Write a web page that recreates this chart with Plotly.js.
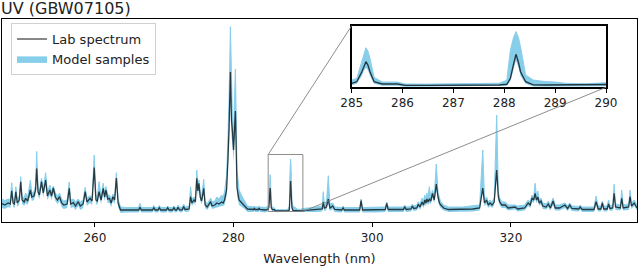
<!DOCTYPE html>
<html>
<head>
<meta charset="utf-8">
<script src="https://cdn.plot.ly/plotly-3.0.1.min.js"></script>
<style>
html,body{margin:0;padding:0;background:#fff;}
#chart{width:640px;height:269px;}
</style>
</head>
<body>
<div id="chart"></div>
<script>
// Wavelength (nm)
const wavelength = [
 246.6,247.0,247.5,247.8,248.0,248.2,248.4,248.6,248.8,249.1,
 249.3,249.5,249.8,250.0,250.3,250.7,250.9,251.2,251.45,251.6,
 251.8,252.0,252.3,252.55,252.9,253.15,253.5,253.75,254.0,254.3,
 254.6,254.9,255.2,255.5,256.0,256.3,256.5,256.9,257.2,257.6,
 257.9,258.3,258.6,258.85,259.3,259.6,259.9,260.15,260.35,260.6,
 260.9,261.2,261.4,261.6,261.85,262.1,262.35,262.6,262.85,263.1,
 263.35,263.7,
 264.5,266.3,266.5,266.7,268.3,268.5,268.7,269.1,269.3,269.5,
 270.3,270.5,270.7,271.2,271.4,271.6,271.8,272.0,272.2,272.6,
 272.8,273.0,273.6,273.8,274.0,274.3,274.5,274.7,274.85,275.0,
 275.2,275.4,275.7,275.9,276.2,276.7,276.9,277.3,277.6,277.9,
 278.3,278.5,
 278.7,279.0,279.2,279.35,279.55,279.7,279.85,280.0,280.27,280.5,
 280.8,281.2,281.6,282.0,
 282.9,283.0,283.1,283.6,283.7,283.8,284.6,
 285.0,285.1,285.2,285.24,285.28,285.32,285.36,285.44,285.6,285.9,
 286.05,286.5,287.0,287.5,287.9,288.05,288.12,288.18,288.23,288.28,
 288.32,288.42,288.57,288.8,289.0,289.2,289.6,290.0,
 291.5,292.2,292.8,292.94,293.1,293.4,293.67,293.9,294.3,294.6,
 295.6,295.8,296.0,298.2,298.4,298.6,300.5,301.9,302.1,302.3,
 304.5,304.7,304.9,305.6,305.8,306.0,306.45,306.65,306.9,307.2,
 307.4,307.6,307.75,307.9,308.05,308.24,308.45,308.7,308.95,309.25,
 309.5,309.7,309.9,310.3,311.0,313.0,314.5,315.5,315.95,316.2,
 316.5,316.75,317.0,317.3,317.6,317.96,318.2,318.4,318.7,319.2,
 319.6,320.6,321.0,322.0,322.5,322.8,323.05,323.3,323.5,323.7,
 323.9,324.1,324.35,324.6,325.1,325.4,325.7,326.1,326.4,327.0,
 327.8,328.2,328.5,328.8,329.8,330.0,330.3,332.0,332.3,332.6,
 333.0,333.2,333.4,333.9,334.1,334.3,334.7,334.9,335.1,335.8,
 336.0,336.2,337.0,337.2,337.4,337.8,338.2
];
// Lab spectrum intensity (arb. units)
const labSpectrum = [
 7.5,6,8,7,20.3,8,7,19.3,8,11,
 29.3,11,9,12.7,10,21,14,15,21,42.5,
 19,16,29.3,18,31,15,21,15,23,14,
 11,14.3,8,6,7,22.7,7,8.3,5,9.3,
 5,7,19.3,9,12.7,10,43.5,11,10,19.3,
 11,22.7,14,21,12,12.7,8,14.3,11,33,
 8,1,
 1,1,3.7,1,1,3.3,1,1,3.3,1,
 1,3.3,1,1,3.3,1,1,3.7,1.2,1.2,
 4.5,1.5,2,14.3,8,11,9,32.7,20,27.7,
 14,10,22.7,6,4,9.3,5,6,8,7,
 9,8,
 11,21,53,81,139,91,79,61,100,23,
 11,8,5,2,
 1.5,3,1.5,1.5,3,1.5,1,
 1.9,3.5,13.2,19,22.9,19.5,13.2,3.5,1.3,1.3,
 0,0,0,0,0.3,1,6.8,20,30,22,
 13.2,3.5,0.5,0.3,0.3,0,0,0.3,
 1,1.5,2,9,3,4,12,3,5,1.5,
 1,3,1,1,10.3,1,1,1.5,7.7,1.5,
 1.5,4.3,1.5,2,5,2.5,3,6.7,4,9,
 6,11,8,12,9,11.7,10,17.7,11,27,
 14,8,6,3,1.5,1.5,2,3,23,8,
 11,6,8,6,9,41,14,9,6,6,
 3,4,2,3,8,6,13,11,17.7,11,
 14,8,10,5,4,7,3,10,3,3,
 6,2.5,6,2.5,2,4,1.5,1.5,9.3,2,
 2,8,2,2,7,2.5,3,17.7,4,3,
 12.7,3,4,14.3,5,8,3
];
// Model samples: lower envelope
const modelLower = [
 3,2,4,3,15,4,3,15,4,7,
 24,7,5,8,6,16,10,11,16,35,
 15,12,24,14,25,11,16,11,18,10,
 7,10,4,2,3,17,3,4,1,5,
 1,3,15,5,8,6,36,7,6,15,
 7,18,10,16,8,8,4,10,7,27,
 4,-2,
 -1.5,-1.5,1,-1.5,-1.5,0.5,-1.5,-1.5,0.5,-1.5,
 -1.5,0.5,-1.5,-1.5,0.5,-1.5,-1.5,1,-1.3,-1.3,
 1.5,-1,-0.5,10,5,8,6,26,15,22,
 10,7,17,3,1,6,2,3,4,4,
 5,5,
 6,15,40,65,115,75,65,50,85,15,
 6,4,2,-1,
 -1,0.5,-1,-1,0.5,-1,-1.5,
 0,1.5,9,14,17,14.5,9,1.5,-0.5,-0.5,
 -1.3,-1.2,-1,-1,-1,-0.5,4,15,24,17,
 9,1.5,-1,-1,-1,-1.2,-1.2,-1,
 -1.5,-1,-0.5,5,0,1,8,0,2,-1,
 -1.5,0.5,-1.5,-1.5,7,-1.5,-1.5,-1,5,-1,
 -1,1.5,-1,-0.5,2,0,0.5,4,1,6,
 3,7,5,8,6,8,7,13,8,21,
 10,5,3,0.5,-1,-1,-0.5,0.5,18,5,
 7,3,5,3,6,33,10,6,3,3,
 0.5,1.5,-0.5,0.5,5,3,9,8,13,8,
 10,5,7,2,1.5,4,0.5,6,0.5,0.5,
 3,0,3,0,-0.5,1.5,-1,-1,6,-0.5,
 -0.5,5,-0.5,-0.5,4,0,0.5,13,1,0.5,
 9,0.5,1,10,2,5,0.5
];
// Model samples: upper envelope
const modelUpper = [
 12,10.5,12,11,28.3,12,11,24.3,12,15,
 34.3,15,13,18,14,31,18,19,26,59.5,
 24,20,33,22,38.3,19,26,19,25,18,
 15,18,12,10,11,29,11,12,9,12,
 9,11,23.7,13,15,14,56,15,14,29.3,
 15,27.7,18,24.3,16,16,12,17,15,38.3,
 12,4,
 3.5,3.5,7.7,3.5,3.5,5.5,3.5,3.5,5.5,3.5,
 3.5,5,3.5,3.5,5,3.5,3.5,6,3.7,3.7,
 7,4,5,24.3,12,14,13,41,25,31,
 19,15,31.7,10,7,13,9,10,14,12,
 16,14,
 19,36,76,111,184.3,121,91,81,142,41,
 21,15,10,5,
 4,5,4,4,5,4,3.5,
 5.1,6.8,24.5,32,36.4,33,26,7.8,3.2,3.2,
 1.3,1.2,1.5,1.2,2,5,34,46,52,46,
 37,10,5.1,3.6,3.2,2,1.5,2.5,
 3.5,4,5,19.3,7,8,35.3,7,8,4,
 3.5,5,3.5,3.5,12,3.5,3.5,4,9,4,
 4,6,4,4.5,7,5,6,9.3,7,13,
 10,16,12,18,13,24.3,14,21,15,47,
 18,12,9,6,4,4,5,6,61,12,
 14,9,11,9,13,96,19,13,9,9,
 6,6,5,6,11,9,16,14,27.7,15,
 20,11,13,8,7,10,6,13,6,6,
 8,5,8,5,4.5,6,4,4,15,5,
 5,10,5,5,11,5,6,26.7,7,6,
 21,6,7,21,8,11,6
];
const xTicks = [260, 280, 300, 320];
const insetTicks = [285, 286, 287, 288, 289, 290];
const chartTitle = 'UV (GBW07105)';

const xRange = [246.6, 338.2];
const yRange = [-11, 192];
const insetX = [285, 290];
const insetY = [-1.9, 57.7];
const boxY = [-0.5, 56.5];
const insetDomX = [0.5507, 0.9512];
const insetDomY = [0.6635, 0.967];

const blue = '#87CEEB';
const labColor = 'rgba(0,0,0,0.72)';
const font = 'DejaVu Sans, sans-serif';

function bandTraces(xa, ya, legend) {
  return [
    {x: wavelength, y: modelLower, xaxis: xa, yaxis: ya, type: 'scatter', mode: 'lines',
     line: {width: 0, color: blue}, showlegend: false, hoverinfo: 'skip'},
    {x: wavelength, y: modelUpper, xaxis: xa, yaxis: ya, type: 'scatter', mode: 'lines',
     fill: 'tonexty', fillcolor: blue, line: {width: 1, color: blue},
     name: 'Model samples', showlegend: legend, legendrank: 2, hoverinfo: 'skip'}
  ];
}
function labTrace(xa, ya, legend, w) {
  return {x: wavelength, y: labSpectrum, xaxis: xa, yaxis: ya, type: 'scatter', mode: 'lines',
    line: {width: w, color: labColor}, name: 'Lab spectrum', showlegend: legend, legendrank: 1,
    hoverinfo: 'skip'};
}

const data = [
  ...bandTraces('x', 'y', true),
  labTrace('x', 'y', true, 1.3),
  ...bandTraces('x2', 'y2', false),
  labTrace('x2', 'y2', false, 1.4)
];

const px = v => (v - xRange[0]) / (xRange[1] - xRange[0]);
const py = v => (v - yRange[0]) / (yRange[1] - yRange[0]);

const layout = {
  width: 640, height: 269,
  margin: {l: 2, r: 3, t: 19, b: 47, pad: 0},
  paper_bgcolor: '#fff', plot_bgcolor: '#fff',
  font: {family: font, size: 12, color: '#222'},
  annotations: [
    {text: chartTitle, xref: 'paper', yref: 'paper', x: 0, y: 1, xanchor: 'left', yanchor: 'bottom',
     xshift: -2, yshift: 0, showarrow: false, borderpad: 0,
     font: {family: font, size: 16, color: '#222'}}
  ],
  showlegend: true,
  legend: {x: 0.0142, y: 0.980, xanchor: 'left', yanchor: 'top', bgcolor: 'rgba(255,255,255,0.85)',
           bordercolor: '#d0d0d0', borderwidth: 1, font: {family: font, size: 13, color: '#222'},
           traceorder: 'normal'},
  xaxis: {range: xRange, domain: [0, 1], anchor: 'y', tickmode: 'array', tickvals: xTicks,
          ticktext: xTicks.map(String), ticks: 'outside', ticklen: 4, tickwidth: 1, tickcolor: '#000',
          showline: true, linecolor: '#000', linewidth: 1.2, mirror: true, showgrid: false, zeroline: false,
          tickfont: {family: font, size: 12, color: '#222'},
          title: {text: 'Wavelength (nm)', font: {family: font, size: 13, color: '#222'}, standoff: 10}},
  yaxis: {range: yRange, domain: [0, 1], anchor: 'x', showticklabels: false, ticks: '',
          showline: true, linecolor: '#000', linewidth: 1.2, mirror: true, showgrid: false, zeroline: false},
  xaxis2: {range: insetX, domain: insetDomX, anchor: 'y2', tickmode: 'array', tickvals: insetTicks,
           ticktext: insetTicks.map(String), ticks: 'outside', ticklen: 4, tickwidth: 1, tickcolor: '#000',
           showline: true, linecolor: '#000', linewidth: 1.5, mirror: true, showgrid: false, zeroline: false,
           tickfont: {family: font, size: 12, color: '#222'}},
  yaxis2: {range: insetY, domain: insetDomY, anchor: 'x2', showticklabels: false, ticks: '',
           showline: true, linecolor: '#000', linewidth: 1.5, mirror: true, showgrid: false, zeroline: false},
  shapes: [
    {type: 'rect', xref: 'x', yref: 'y', x0: insetX[0], x1: insetX[1], y0: boxY[0], y1: boxY[1],
     line: {color: '#808080', width: 0.9}, layer: 'above'},
    {type: 'line', xref: 'paper', yref: 'paper', x0: px(insetX[0]), y0: py(boxY[1]),
     x1: insetDomX[0], y1: insetDomY[1], line: {color: '#808080', width: 0.9}, layer: 'above'},
    {type: 'line', xref: 'paper', yref: 'paper', x0: px(insetX[1]), y0: py(boxY[0]),
     x1: insetDomX[1], y1: insetDomY[0], line: {color: '#808080', width: 0.9}, layer: 'above'}
  ]
};

Plotly.newPlot('chart', data, layout, {displayModeBar: false, staticPlot: true});
</script>
</body>
</html>
